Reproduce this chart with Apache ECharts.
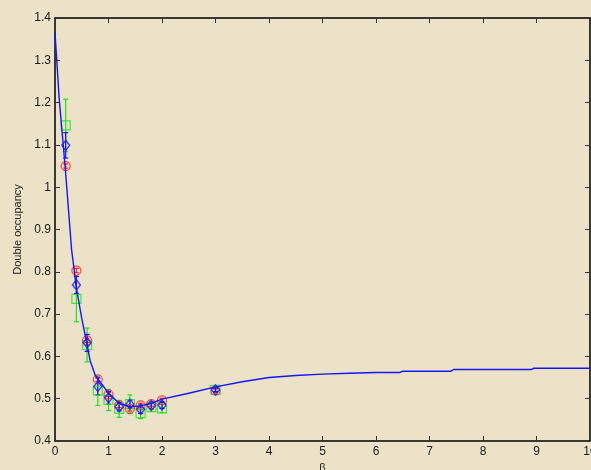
<!DOCTYPE html>
<html>
<head>
<meta charset="utf-8">
<script src="https://cdn.jsdelivr.net/npm/echarts@6/dist/echarts.min.js"></script>
<style>
  html, body { margin: 0; padding: 0; background: #ece2c7; }
  #chart { width: 591px; height: 470px; }
</style>
</head>
<body>
<div id="chart"></div>
<script>
// Inverse temperature values where the three estimates were computed
const betaPoints = [0.2, 0.4, 0.6, 0.8, 1.0, 1.2, 1.4, 1.6, 1.8, 2.0, 3.0];

// Double occupancy estimates with their error bars
const redValues   = [1.050, 0.803, 0.638, 0.546, 0.510, 0.484, 0.476, 0.484, 0.487, 0.496, 0.519];
const redErrors   = [0.005, 0.005, 0.005, 0.005, 0.005, 0.005, 0.005, 0.005, 0.005, 0.005, 0.004];
const blueValues  = [1.099, 0.769, 0.632, 0.529, 0.502, 0.481, 0.487, 0.475, 0.484, 0.485, 0.521];
const blueErrors  = [0.030, 0.020, 0.020, 0.020, 0.015, 0.010, 0.010, 0.010, 0.008, 0.008, 0.004];
const greenValues = [1.146, 0.736, 0.627, 0.519, 0.497, 0.476, 0.487, 0.466, 0.480, 0.477, 0.521];
const greenErrors = [0.062, 0.054, 0.040, 0.035, 0.025, 0.020, 0.022, 0.013, 0.010, 0.010, 0.005];

// Reference curve
const curveBeta   = [0, 0.08, 0.155, 0.19, 0.31, 0.36, 0.39, 0.44, 0.5, 0.6, 0.654, 0.75, 0.84, 1.0, 1.2, 1.4, 1.6, 1.8, 2.0, 2.5, 3.0, 3.5, 4.0, 4.5, 5.0, 5.5, 6.0, 6.45, 6.5, 7.4, 7.45, 8.9, 8.95, 10];
const curveValues = [1.365, 1.206, 1.099, 1.048, 0.852, 0.803, 0.769, 0.733, 0.69, 0.628, 0.591, 0.556, 0.540, 0.513, 0.489, 0.481, 0.483, 0.489, 0.499, 0.513, 0.528, 0.540, 0.550, 0.555, 0.558, 0.560, 0.562, 0.562, 0.565, 0.565, 0.569, 0.569, 0.572, 0.572];

// Axis ticks
const xTicks = [0, 1, 2, 3, 4, 5, 6, 7, 8, 9, 10];
const yTicks = [0.4, 0.5, 0.6, 0.7, 0.8, 0.9, 1.0, 1.1, 1.2, 1.3, 1.4];

const pairs = (xs, ys) => xs.map((x, i) => [x, ys[i]]);
const errTriples = (xs, ys, es) => xs.map((x, i) => [x, ys[i] - es[i], ys[i] + es[i]]);

function errorBarSeries(color, data) {
  return {
    type: 'custom',
    data: data,
    z: 3,
    renderItem: function (params, api) {
      const x = api.value(0);
      const lo = api.coord([x, api.value(1)]);
      const hi = api.coord([x, api.value(2)]);
      const cap = 2.5;
      const style = { stroke: color, lineWidth: 1.2 };
      return {
        type: 'group',
        children: [
          { type: 'line', shape: { x1: lo[0], y1: lo[1], x2: hi[0], y2: hi[1] }, style: style },
          { type: 'line', shape: { x1: lo[0] - cap, y1: lo[1], x2: lo[0] + cap, y2: lo[1] }, style: style },
          { type: 'line', shape: { x1: hi[0] - cap, y1: hi[1], x2: hi[0] + cap, y2: hi[1] }, style: style }
        ]
      };
    }
  };
}

const textColor = '#1a1a1a';
const axisFont = 'Helvetica, Arial, "Liberation Sans", sans-serif';

const baseX = {
  type: 'value', min: 0, max: 10, interval: 1,
  axisLine: { show: true, onZero: false, lineStyle: { color: '#000', width: 1.5 } },
  axisTick: { show: true, inside: true, length: 5, lineStyle: { color: '#333' } },
  splitLine: { show: false }
};
const baseY = {
  type: 'value', min: 0.4, max: 1.4, interval: 0.1,
  axisLine: { show: true, onZero: false, lineStyle: { color: '#000', width: 1.5 } },
  axisTick: { show: true, inside: true, length: 5, lineStyle: { color: '#333' } },
  splitLine: { show: false }
};

const chart = echarts.init(document.getElementById('chart'), null, { renderer: 'canvas' });
chart.setOption({
  backgroundColor: '#ece2c7',
  animation: false,
  grid: { left: 55, right: 1, top: 18, bottom: 29, outerBoundsMode: 'none', containLabel: false },
  xAxis: [
    Object.assign({}, baseX, {
      position: 'bottom',
      name: 'β', nameLocation: 'middle', nameGap: 21,
      nameTextStyle: { color: textColor, fontSize: 11, fontFamily: axisFont },
      axisLabel: { color: textColor, fontSize: 12, fontFamily: axisFont, margin: 5,
        formatter: v => xTicks.includes(v) ? String(v) : '' }
    }),
    Object.assign({}, baseX, { position: 'top', axisLabel: { show: false } })
  ],
  yAxis: [
    Object.assign({}, baseY, {
      position: 'left',
      name: 'Double occupancy', nameLocation: 'middle', nameGap: 29, nameRotate: 90,
      nameTextStyle: { color: textColor, fontSize: 11, fontFamily: axisFont },
      axisLabel: { color: textColor, fontSize: 12, fontFamily: axisFont, margin: 4,
        formatter: v => {
          const t = yTicks.find(k => Math.abs(k - v) < 1e-6);
          return t === undefined ? '' : String(Math.round(t * 10) / 10);
        } }
    }),
    Object.assign({}, baseY, { position: 'right', axisLabel: { show: false } })
  ],
  series: [
    errorBarSeries('#19e619', errTriples(betaPoints, greenValues, greenErrors)),
    {
      type: 'scatter', data: pairs(betaPoints, greenValues), symbol: 'rect', symbolSize: 9, z: 4,
      itemStyle: { color: 'rgba(0,0,0,0)', borderColor: '#19e619', borderWidth: 1.2 }
    },
    errorBarSeries('#ff2020', errTriples(betaPoints, redValues, redErrors)),
    {
      type: 'scatter', data: pairs(betaPoints, redValues), symbol: 'circle', symbolSize: 9, z: 5,
      itemStyle: { color: 'rgba(0,0,0,0)', borderColor: '#ff2020', borderWidth: 1.2 }
    },
    {
      type: 'line', data: pairs(curveBeta, curveValues), showSymbol: false, smooth: false, z: 6,
      lineStyle: { color: '#1414ff', width: 1.4 }
    },
    errorBarSeries('#1414ff', errTriples(betaPoints, blueValues, blueErrors)),
    {
      type: 'scatter', data: pairs(betaPoints, blueValues), symbol: 'diamond', symbolSize: [8, 10], z: 7,
      itemStyle: { color: 'rgba(0,0,0,0)', borderColor: '#1414ff', borderWidth: 1.4 }
    }
  ]
});
</script>
</body>
</html>
